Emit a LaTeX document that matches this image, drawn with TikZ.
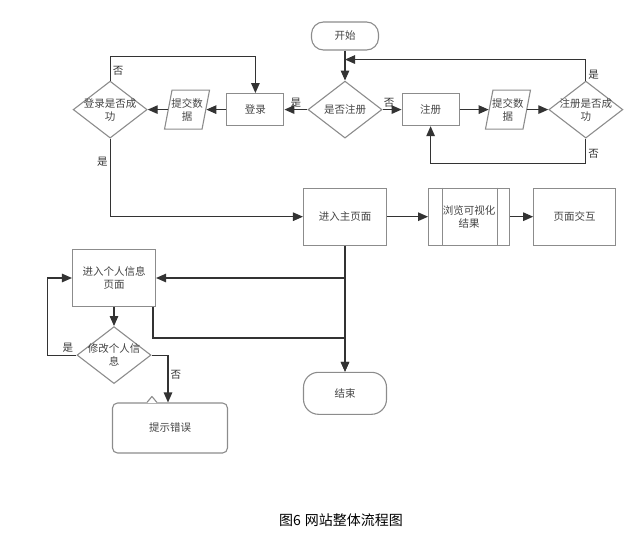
\documentclass[tikz,border=0pt]{standalone}
\usepackage{fontspec}
\setmainfont{Noto Sans CJK SC}
\usepackage{tikz}
\usetikzlibrary{positioning,shapes.geometric,arrows.meta,calc}
\definecolor{boxgray}{HTML}{8C8C8C}
\definecolor{linegray}{HTML}{333333}
\definecolor{txtgray}{HTML}{444444}

\begin{document}
\begin{tikzpicture}[x=1pt,y=1pt,
  font=\fontsize{10.5}{13}\selectfont,
  box/.style={rectangle, draw=boxgray, line width=1.1pt, text=txtgray, align=center, minimum width=57pt, minimum height=32pt, inner sep=1pt},
  bigbox/.style={box, minimum width=83pt, minimum height=57pt},
  dia/.style={diamond, draw=boxgray, line width=1.1pt, minimum width=74pt, minimum height=57pt, inner sep=2pt, label={[text=txtgray, align=center]center:#1}},
  para/.style={trapezium, trapezium left angle=76, trapezium right angle=104, trapezium stretches=true, draw=boxgray, line width=1.1pt, minimum width=45pt, minimum height=39pt, inner sep=3pt, label={[text=txtgray, align=center]center:#1}},
  term/.style={rectangle, rounded corners=12pt, draw=boxgray, line width=1.1pt, text=txtgray, inner sep=1pt},
  flow/.style={draw=linegray, line width=1.2pt, -{Triangle[length=10pt,width=8.5pt]}},
  lab/.style={text=linegray, inner sep=2pt}
]
\useasboundingbox (0,0) rectangle (644,-538);

\node[term, minimum width=67pt, minimum height=28pt] (start) at (345,-36) {开始};

\node[dia={是否注册}, below=30pt of start] (regq) {};

\node[box, right=19pt of regq] (reg) {注册};

\node[para={提交数\\据}, right=29pt of reg] (regdata) {};

\node[dia={注册是否成\\功}, right=21pt of regdata] (regok) {};

\node[box, left=23pt of regq] (login) {登录};

\node[para={提交数\\据}, left=20pt of login] (logindata) {};

\node[dia={登录是否成\\功}, left=20pt of logindata] (loginok) {};

\node[bigbox, below=49pt of regq] (home) {进入主页面};

\node[bigbox, minimum width=81pt, right=41pt of home] (browse) {浏览可视化\\结果};

\node[bigbox, minimum width=82pt, right=23pt of browse] (inter) {页面交互};

\node[term, minimum width=83pt, minimum height=42pt, rounded corners=15pt, below=126pt of home] (end) {结束};

\node[bigbox] (info) at (114,-278) {进入个人信息\\页面};

\node[dia={修改个人信\\息}, below=19pt of info] (edit) {};

\node[box, minimum width=115pt, minimum height=50pt, rounded corners=5pt] (err) at (170,-428) {提示错误};

\node[font=\fontsize{14}{16}\selectfont] (cap) at (341,-520) {图6\hspace{4pt}网站整体流程图};

% subprocess bars and callout notch
\draw[boxgray, line width=1.1pt] ([xshift=14pt]browse.north west) -- ([xshift=14pt]browse.south west);
\draw[boxgray, line width=1.1pt] ([xshift=-13pt]browse.north east) -- ([xshift=-13pt]browse.south east);
\draw[white, line width=2pt] ([xshift=35pt]err.north west) -- ([xshift=45pt]err.north west);
\draw[boxgray, line width=1.1pt, line join=round] ([xshift=35pt]err.north west) -- ++(5,6) -- ++(5,-6);

% register branch
\draw[flow] (start) -- (regq);
\draw[flow] (regq) -- node[lab, above, pos=0.35] {否} (reg);
\draw[flow] (reg) -- (regdata);
\draw[flow] (regdata) -- (regok);
\draw[flow] (regok.north) |- node[lab, right, pos=0.15] {是} ([yshift=21pt]regq.north);
\draw[flow] (regok.south) -- node[lab, right, pos=0.6] {否} ++(0,-25) -| (reg.south);

% login branch
\draw[flow] (regq) -- node[lab, above] {是} (login);
\draw[flow] (login) -- (logindata);
\draw[flow] (logindata) -- (loginok);
\draw[flow] (loginok.north) -- node[lab, right, pos=0.4] {否} ++(0,24) -| (login.north);
\draw[flow] (loginok.south) |- node[lab, left, pos=0.15] {是} (home.west);

% main page
\draw[flow] (home) -- (browse);
\draw[flow] (browse) -- (inter);
\draw[flow] (home) -- (end);
\draw[flow] (home.south) |- (info.east);
\draw[flow] ([xshift=-3pt]info.south east) -- ++(0,-31) -| (end.north);

% personal info
\draw[flow] (info) -- (edit);
\draw[flow] (edit.west) -- node[lab, above, pos=0.3] {是} ++(-29,0) |- (info.west);
\draw[flow] (edit.east) -| node[lab, right, pos=0.71] {否} ([xshift=-2pt]err.north);

\end{tikzpicture}
\end{document}
